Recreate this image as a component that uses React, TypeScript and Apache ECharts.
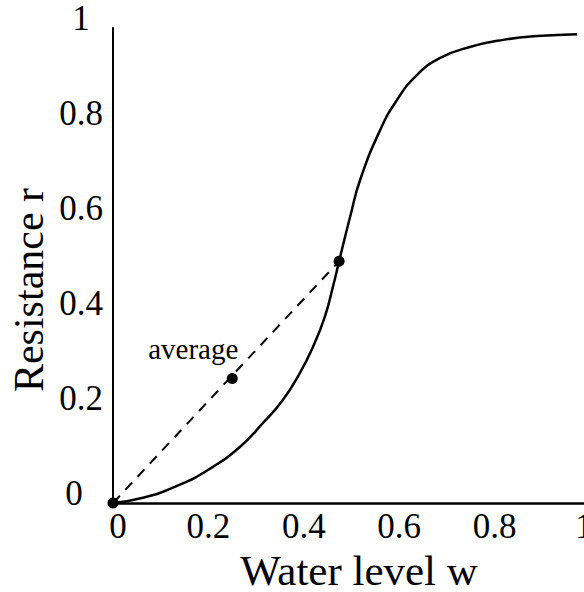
import React, { useEffect, useRef } from "react";
import * as echarts from "echarts";

// Resistance curve r(w)
const curveW = [0, 0.063, 0.134, 0.2, 0.266, 0.314, 0.356, 0.392, 0.419, 0.444, 0.461, 0.474, 0.497, 0.518, 0.56, 0.595, 0.637, 0.686, 0.748, 0.818, 0.889, 0.973];
const curveR = [0, 0.011, 0.036, 0.07, 0.118, 0.168, 0.217, 0.274, 0.328, 0.392, 0.455, 0.509, 0.602, 0.68, 0.785, 0.848, 0.901, 0.937, 0.96, 0.975, 0.983, 0.987];

// Dashed chord from origin to the marked point
const chordW = [0, 0.474];
const chordR = [0, 0.509];

// Marked points
const pointW = [0, 0.474];
const pointR = [0, 0.509];
const averageW = 0.25;
const averageR = 0.262;
const averageLabel = "average";

const xTicks = [0, 0.2, 0.4, 0.6, 0.8, 1];
const yTicks = [0, 0.2, 0.4, 0.6, 0.8, 1];
const xTitle = "Water level w";
const yTitle = "Resistance r";

const FONT = "'Liberation Serif', 'Times New Roman', serif";

export default function App() {
  const ref = useRef<HTMLDivElement>(null);
  useEffect(() => {
    if (!ref.current) return;
    const chart = echarts.init(ref.current, undefined, { renderer: "svg" });
    const fmt = (v: number) => (v === 0 ? "0" : v === 1 ? "1" : String(Number(v.toFixed(1))));
    chart.setOption({
      animation: false,
      backgroundColor: "#ffffff",
      grid: { left: 113, top: 28, width: 477, height: 475, outerBoundsMode: "none", containLabel: false },
      xAxis: {
        type: "value",
        min: xTicks[0],
        max: xTicks[xTicks.length - 1],
        interval: 0.2,
        axisLine: { show: true, lineStyle: { color: "#000", width: 2.5 } },
        axisTick: { show: false },
        splitLine: { show: false },
        axisLabel: {
          color: "#000",
          fontFamily: FONT,
          fontSize: 35,
          margin: 6,
          hideOverlap: false,
          showMaxLabel: true,
          formatter: (v: number) => (v === 0 ? "{z|0}" : v === 1 ? "{o|1}" : fmt(v)),
          rich: {
            z: { fontFamily: FONT, fontSize: 35, color: "#000", padding: [0, 0, 0, 10] },
            o: { fontFamily: FONT, fontSize: 35, color: "#000", padding: [0, 12, 0, 0] },
          },
        },
      },
      yAxis: {
        type: "value",
        min: yTicks[0],
        max: yTicks[yTicks.length - 1],
        interval: 0.2,
        axisLine: { show: true, lineStyle: { color: "#000", width: 2 } },
        axisTick: { show: false },
        splitLine: { show: false },
        axisLabel: {
          color: "#000",
          fontFamily: FONT,
          fontSize: 35,
          margin: 32,
          align: "center",
          padding: [0, 0, 20, 0],
          showMaxLabel: true,
          formatter: (v: number) => (v === 0 ? "{z|0}" : fmt(v)),
          rich: {
            z: { fontFamily: FONT, fontSize: 35, color: "#000", padding: [0, 14, 0, 0] },
          },
        },
      },
      graphic: [
        {
          type: "text",
          x: 359,
          y: 570,
          style: {
            text: xTitle,
            font: `43px ${FONT}`,
            fill: "#000",
            textAlign: "center",
            textVerticalAlign: "middle",
          },
        },
        {
          type: "text",
          x: 29,
          y: 290,
          rotation: Math.PI / 2,
          style: {
            text: yTitle,
            font: `42px ${FONT}`,
            fill: "#000",
            textAlign: "center",
            textVerticalAlign: "middle",
          },
        },
      ],
      series: [
        {
          type: "line",
          data: curveW.map((w, i) => [w, curveR[i]]),
          smooth: 0.5,
          showSymbol: false,
          lineStyle: { color: "#000", width: 2.5 },
          clip: false,
        },
        {
          type: "line",
          data: chordW.map((w, i) => [w, chordR[i]]),
          showSymbol: false,
          lineStyle: { color: "#000", width: 2, type: [10, 8] },
          clip: false,
        },
        {
          type: "scatter",
          data: pointW.map((w, i) => [w, pointR[i]]),
          symbolSize: 11,
          itemStyle: { color: "#000", opacity: 1 },
          clip: false,
        },
        {
          type: "scatter",
          data: [[averageW, averageR]],
          symbolSize: 11,
          itemStyle: { color: "#000", opacity: 1 },
          clip: false,
          label: {
            show: true,
            formatter: averageLabel,
            position: "top",
            offset: [-39, -5],
            color: "#000",
            fontFamily: FONT,
            fontSize: 29,
          },
        },
      ],
    });
    return () => chart.dispose();
  }, []);
  return (
    <div
      ref={ref}
      style={{ position: "fixed", left: 0, top: 0, width: 584, height: 592, background: "#fff" }}
    />
  );
}
